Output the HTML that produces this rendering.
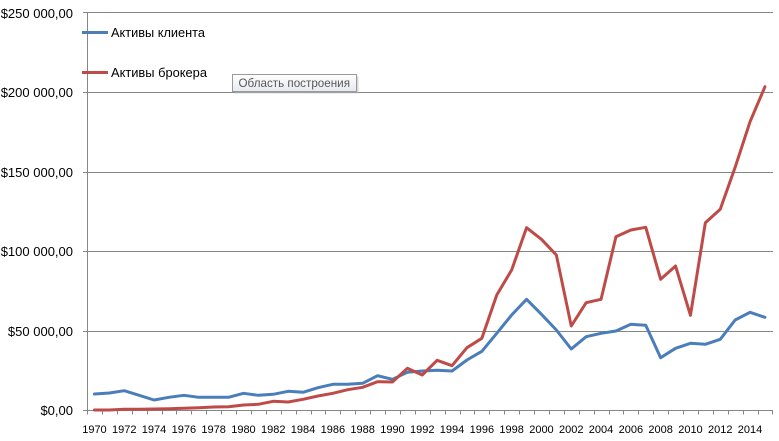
<!DOCTYPE html>
<html>
<head>
<meta charset="utf-8">
<style>
  html, body { margin: 0; padding: 0; background: #ffffff; }
  body { width: 779px; height: 441px; overflow: hidden; }
  svg { display: block; }
  text { font-family: "Liberation Sans", "DejaVu Sans", sans-serif; fill: #000; }
</style>
</head>
<body>
<svg width="779" height="441" viewBox="0 0 779 441" xmlns="http://www.w3.org/2000/svg">
  <defs>
    <linearGradient id="tipg" x1="0" y1="0" x2="0" y2="1">
      <stop offset="0" stop-color="#ffffff"/>
      <stop offset="1" stop-color="#e6e9f0"/>
    </linearGradient>
  </defs>
  <rect x="0" y="0" width="779" height="441" fill="#ffffff"/>

  <!-- gridlines -->
  <g stroke="#868686" stroke-width="1" shape-rendering="crispEdges">
    <line x1="83" y1="12.5" x2="773" y2="12.5"/>
    <line x1="83" y1="92.5" x2="773" y2="92.5"/>
    <line x1="83" y1="172.5" x2="773" y2="172.5"/>
    <line x1="83" y1="251.5" x2="773" y2="251.5"/>
    <line x1="83" y1="331.5" x2="773" y2="331.5"/>
    <line x1="83" y1="410.5" x2="773" y2="410.5"/>
    <!-- y axis -->
    <line x1="87.5" y1="12.5" x2="87.5" y2="411"/>
    <!-- x ticks -->
    <path d="M87.5 410.5v4 M102.5 410.5v4 M117.5 410.5v4 M132.5 410.5v4 M147.5 410.5v4 M162.5 410.5v4 M176.5 410.5v4 M191.5 410.5v4 M206.5 410.5v4 M221.5 410.5v4 M236.5 410.5v4 M251.5 410.5v4 M266.5 410.5v4 M281.5 410.5v4 M296.5 410.5v4 M311.5 410.5v4 M325.5 410.5v4 M340.5 410.5v4 M355.5 410.5v4 M370.5 410.5v4 M385.5 410.5v4 M400.5 410.5v4 M415.5 410.5v4 M430.5 410.5v4 M445.5 410.5v4 M460.5 410.5v4 M474.5 410.5v4 M489.5 410.5v4 M504.5 410.5v4 M519.5 410.5v4 M534.5 410.5v4 M549.5 410.5v4 M564.5 410.5v4 M579.5 410.5v4 M594.5 410.5v4 M609.5 410.5v4 M623.5 410.5v4 M638.5 410.5v4 M653.5 410.5v4 M668.5 410.5v4 M683.5 410.5v4 M698.5 410.5v4 M713.5 410.5v4 M728.5 410.5v4 M743.5 410.5v4 M758.5 410.5v4 M772.5 410.5v4"/>
  </g>

  <!-- y labels -->
  <g font-size="13" text-anchor="end">
    <text x="73" y="18">$250 000,00</text>
    <text x="73" y="97">$200 000,00</text>
    <text x="73" y="177">$150 000,00</text>
    <text x="73" y="256">$100 000,00</text>
    <text x="73" y="336">$50 000,00</text>
    <text x="73" y="415">$0,00</text>
  </g>

  <!-- x labels -->
  <g font-size="11" text-anchor="middle">
    <text x="94.45" y="433">1970</text>
    <text x="124.25" y="433">1972</text>
    <text x="154.05" y="433">1974</text>
    <text x="183.85" y="433">1976</text>
    <text x="213.65" y="433">1978</text>
    <text x="243.45" y="433">1980</text>
    <text x="273.25" y="433">1982</text>
    <text x="303.05" y="433">1984</text>
    <text x="332.85" y="433">1986</text>
    <text x="362.65" y="433">1988</text>
    <text x="392.45" y="433">1990</text>
    <text x="422.25" y="433">1992</text>
    <text x="452.05" y="433">1994</text>
    <text x="481.85" y="433">1996</text>
    <text x="511.65" y="433">1998</text>
    <text x="541.45" y="433">2000</text>
    <text x="571.25" y="433">2002</text>
    <text x="601.05" y="433">2004</text>
    <text x="630.85" y="433">2006</text>
    <text x="660.65" y="433">2008</text>
    <text x="690.45" y="433">2010</text>
    <text x="720.25" y="433">2012</text>
    <text x="750.05" y="433">2014</text>
  </g>

  <!-- series -->
  <polyline fill="none" stroke="#4A7EBB" stroke-width="3" stroke-linejoin="round" stroke-linecap="round"
    points="94.45,394 109.35,393 124.25,390.7 139.15,395.3 154.05,400 168.95,397.3 183.85,395.3 198.75,397.3 213.65,397.3 228.55,397.3 243.45,393.3 258.35,395.3 273.25,394.3 288.15,391.3 303.05,392.3 317.95,387.7 332.85,384.3 347.75,384.3 362.65,383.3 377.55,375.7 392.45,379.3 407.35,372.3 422.25,371 437.15,370.3 452.05,371 466.95,360 481.85,351.3 496.75,333.3 511.65,315 526.55,299.3 541.45,314.3 556.35,330 571.25,349 586.15,336.7 601.05,333.3 615.95,331 630.85,324.3 645.75,325.3 660.65,357.7 675.55,348.3 690.45,343.3 705.35,344.3 720.25,339.3 735.15,320 750.05,312.3 764.95,317.3"/>
  <polyline fill="none" stroke="#BE4B48" stroke-width="3" stroke-linejoin="round" stroke-linecap="round"
    points="94.45,410 109.35,410 124.25,409.3 139.15,409.3 154.05,409 168.95,408.7 183.85,408.3 198.75,407.7 213.65,407 228.55,406.7 243.45,405 258.35,404.3 273.25,401.3 288.15,402 303.05,399.3 317.95,396 332.85,393.3 347.75,389.7 362.65,387.3 377.55,381.7 392.45,382 407.35,368.3 422.25,375 437.15,360.3 452.05,365.7 466.95,347.7 481.85,338.3 496.75,295 511.65,270 526.55,227.7 541.45,239.3 556.35,255 571.25,326 586.15,302.7 601.05,299.3 615.95,236.7 630.85,230 645.75,227.3 660.65,279.3 675.55,266 690.45,315.3 705.35,222.7 720.25,209.3 735.15,167.3 750.05,121.7 764.95,86.7"/>

  <!-- legend -->
  <rect x="82" y="31" width="26" height="3" fill="#4A7EBB"/>
  <text x="111" y="37" font-size="13" textLength="94" lengthAdjust="spacingAndGlyphs">Активы клиента</text>
  <rect x="82" y="71" width="26" height="3" fill="#BE4B48"/>
  <text x="111" y="77" font-size="13" textLength="96" lengthAdjust="spacingAndGlyphs">Активы брокера</text>

  <!-- tooltip -->
  <rect x="234.5" y="76.5" width="124" height="17" fill="#b8b8b8" opacity="0.55"/>
  <rect x="232.5" y="74.5" width="124" height="17" fill="url(#tipg)" stroke="#9a9a9a" stroke-width="1"/>
  <text x="238.5" y="87" font-size="12" style="fill:#575757" textLength="111.5" lengthAdjust="spacingAndGlyphs">Область построения</text>
</svg>
</body>
</html>
